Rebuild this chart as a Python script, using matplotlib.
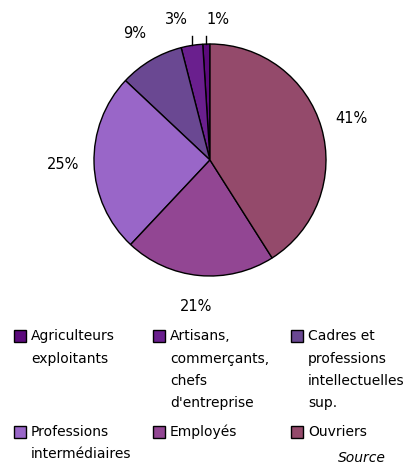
import numpy as np
import matplotlib.pyplot as plt
from matplotlib.patches import Rectangle

# Répartition par catégorie socioprofessionnelle (ordre anti-horaire depuis midi)
categories = [
    "Agriculteurs\nexploitants",
    "Artisans,\ncommerçants,\nchefs\nd'entreprise",
    "Cadres et\nprofessions\nintellectuelles\nsup.",
    "Professions\nintermédiaires",
    "Employés",
    "Ouvriers",
]
parts = [1, 3, 9, 25, 21, 41]
colors = ["#5c0a7c", "#6a1f8e", "#6a4892", "#9966c8", "#924693", "#944a6b"]

W, H = 413, 462
fig = plt.figure(figsize=(W / 100, H / 100), dpi=100)
plt.rcParams['font.family'] = ['DejaVu Sans']

# camembert
cx, cy, r = 210, 160, 116
ax = fig.add_axes([(cx - r) / W, (H - cy - r) / H, 2 * r / W, 2 * r / H])
wedges, _ = ax.pie(parts, colors=colors, startangle=90, counterclock=True,
                   wedgeprops=dict(edgecolor="black", linewidth=1.0))
ax.set_xlim(-1, 1)
ax.set_ylim(-1, 1)
ax.set_aspect('equal')
ax.axis('off')

# étiquettes des pourcentages
for i, (w, p) in enumerate(zip(wedges, parts)):
    ang = np.deg2rad((w.theta1 + w.theta2) / 2)
    ex, ey = np.cos(ang), np.sin(ang)
    txt = f"{p}%"
    if p < 5:
        # petites parts : trait de rappel vertical
        dx = -0.13 if i == 1 else 0.1
        ax.plot([ex, ex], [ey, 1.07], color="black", lw=1, clip_on=False)
        ax.text(ex + dx, 1.21, txt, ha="center", va="center", fontsize=10.5,
                clip_on=False)
    else:
        d = 1.27
        ax.text(d * ex, d * ey, txt, ha="center", va="center", fontsize=10.5,
                clip_on=False)

# légende sur trois colonnes
col_x = [14, 153, 291]
row_y = [336, 432]
line_h = 22.5
for k, (lab, c) in enumerate(zip(categories, colors)):
    x = col_x[k % 3]
    y = row_y[k // 3]
    fig.add_artist(Rectangle((x / W, 1 - (y + 6) / H), 12 / W, 12 / H,
                             facecolor=c, edgecolor="black", lw=1,
                             transform=fig.transFigure))
    for j, line in enumerate(lab.split("\n")):
        fig.text((x + 17) / W, 1 - (y + j * line_h) / H, line,
                 ha="left", va="center", fontsize=10)

fig.text(338 / W, 1 - 458 / H, "Source", ha="left", va="center",
         fontsize=10, style="italic")

fig.savefig("out.png", dpi=100)
